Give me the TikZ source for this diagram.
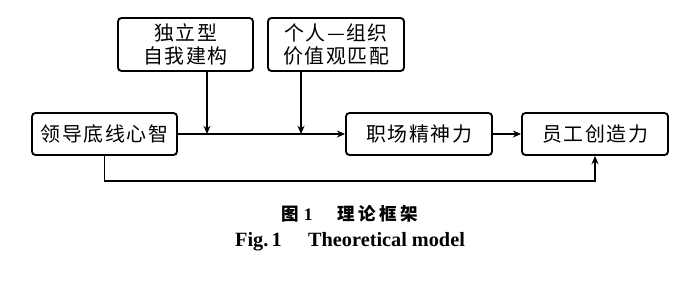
\documentclass[tikz,border=0pt]{standalone}
\usepackage{fontspec}
\setmainfont{Liberation Serif}
\newfontfamily\cjk[LetterSpace=8]{Noto Sans CJK SC}
\newfontfamily\cjkcap[LetterSpace=20]{Noto Sans CJK SC}
\usepackage{tikz}
\usetikzlibrary{arrows.meta}

\begin{document}
\begin{tikzpicture}[x=0.03cm,y=-0.03cm,>={Stealth[length=7pt,width=6pt]},
    box/.style={draw,line width=1.6pt,rounded corners=3pt,align=center,
      font=\cjk\fontsize{17}{19}\selectfont},
    link/.style={line width=1.3pt}]
  \useasboundingbox (0,0) rectangle (700,288);
  \node[box,minimum width=4.35cm,minimum height=1.26cm] (mind) at (104.5,134) {领导底线心智};
  \node[box,minimum width=4.05cm,minimum height=1.59cm] (self) at (185.5,44.5) {独立型\\自我建构};
  \node[box,minimum width=4.08cm,minimum height=1.59cm] (fit) at (336,44.5) {个人—组织\\价值观匹配};
  \node[box,minimum width=4.38cm,minimum height=1.26cm] (spirit) at (419,134) {职场精神力};
  \node[box,minimum width=4.38cm,minimum height=1.26cm] (creat) at (595,134) {员工创造力};
  \coordinate (m1) at (207,134);
  \coordinate (m2) at (301,134);
  \coordinate (low) at (350,181);
  \draw[link,->] (mind) -- (spirit);
  \draw[link,->] (self.south -| m1) -- (m1);
  \draw[link,->] (fit.south -| m2) -- (m2);
  \draw[link,->] (spirit) -- (creat);
  \draw[link,->] (mind.south) |- (low) -| (creat.south);
  % caption
  \node[font=\bfseries\fontsize{15}{18}\selectfont] (cap) at (350,214)
    {{\cjkcap 图}\ 1\hspace{1.4em}{\cjkcap 理论框架}};
  \node[font=\bfseries\fontsize{17.3}{19}\selectfont] (capen) at (350,242)
    {Fig.\,1\hspace{1.3em}Theoretical model};
\end{tikzpicture}
\end{document}
